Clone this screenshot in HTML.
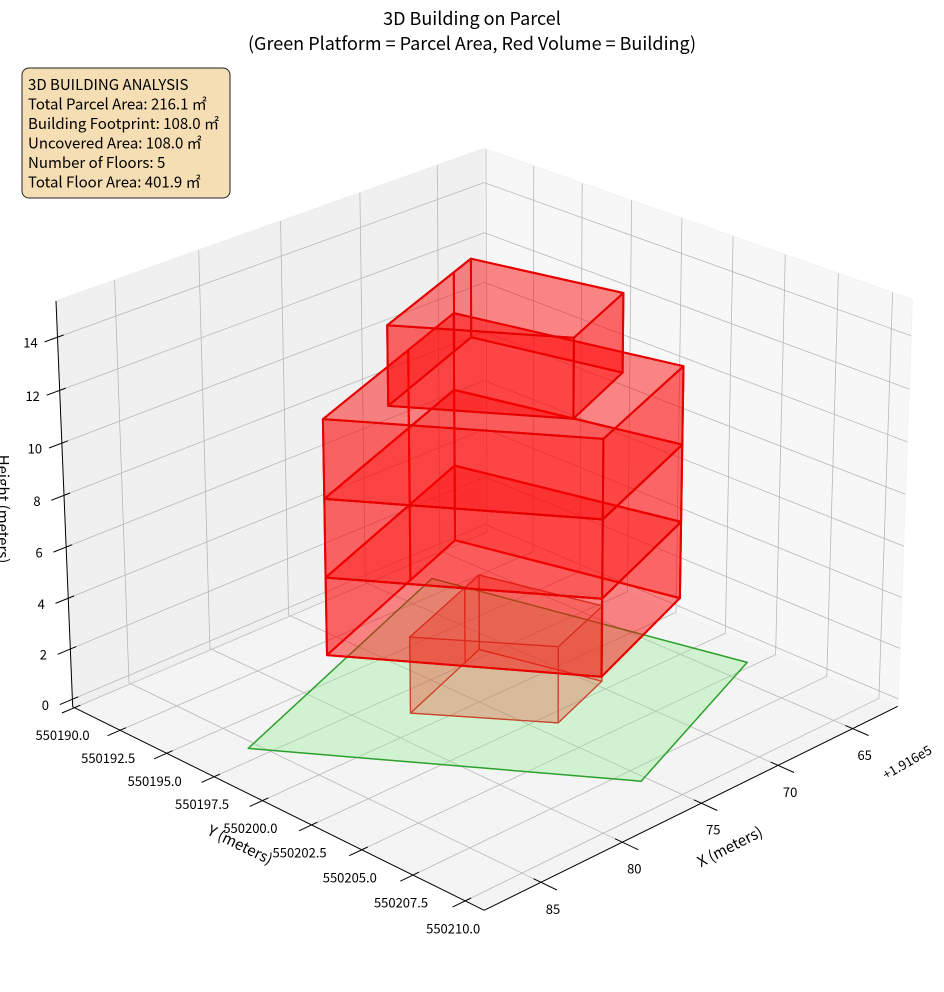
<!DOCTYPE html>
<html>
<head>
<meta charset="utf-8">
<style>
html,body{margin:0;padding:0;background:#fff;}
#wrap{position:relative;width:944px;height:992px;overflow:hidden;font-family:"Noto Sans CJK JP","Liberation Sans",sans-serif;}
svg{position:absolute;left:0;top:0;}
svg text{font-family:"Noto Sans CJK JP","Liberation Sans",sans-serif;fill:#000;}
</style>
</head>
<body>
<div id="wrap">
<svg id="chart" width="944" height="992" viewBox="0 0 944 992">
  <g id="panes"></g>
  <g id="grid"></g>
  <g id="axes"></g>
  <g id="marks"></g>
  <text x="472" y="25" text-anchor="middle" font-size="18">3D Building on Parcel</text>
  <text x="472" y="50" text-anchor="middle" font-size="18">(Green Platform = Parcel Area, Red Volume = Building)</text>
  <text x="730" y="852" text-anchor="middle" font-size="15" transform="rotate(-27 730 847)">X (meters)</text>
  <text x="240" y="850" text-anchor="middle" font-size="15" transform="rotate(26 240 845)">Y (meters)</text>
  <text x="3" y="514" text-anchor="middle" font-size="15" transform="rotate(90 3 509)">Height (meters)</text>
  <text x="907" y="767" text-anchor="middle" font-size="13" transform="rotate(-30 907 762)">+1.916e5</text>
  <g>
    <rect x="22" y="68" width="208" height="130" rx="7" fill="#f5deb3" stroke="#222" stroke-width="1"/>
    <text x="28" y="90" font-size="15">3D BUILDING ANALYSIS</text>
    <text x="28" y="109.5" font-size="15">Total Parcel Area: 216.1 ㎡</text>
    <text x="28" y="129" font-size="15">Building Footprint: 108.0 ㎡</text>
    <text x="28" y="148.5" font-size="15">Uncovered Area: 108.0 ㎡</text>
    <text x="28" y="168" font-size="15">Number of Floors: 5</text>
    <text x="28" y="187.5" font-size="15">Total Floor Area: 401.9 ㎡</text>
  </g>
</svg>
</div>
<script>
// ---- data ----
const XOFF = 191600;
const xTickVals = [65, 70, 75, 80, 85];
const yTickVals = [550190, 550192.5, 550195, 550197.5, 550200, 550202.5, 550205, 550207.5, 550210];
const zTickVals = [0, 2, 4, 6, 8, 10, 12, 14];
const yTickLabels = ["550190.0","550192.5","550195.0","550197.5","550200.0","550202.5","550205.0","550207.5","550210.0"];
const parcelX = [191686.0, 191668.0, 191664.0, 191675.9];
const parcelY = [550197.2, 550191.9, 550205.1, 550208.7];
const floor1X = [191678.5, 191674.48, 191670.1, 191671.77, 191673.18];
const floor1Y = [550199.3, 550203.57, 550202.4, 550197.43, 550197.82];
const bigX = [191682.36, 191675.28, 191667.03, 191669.91, 191674.39];
const bigY = [550198.26, 550206.29, 550203.93, 550194.69, 550195.98];
const floor5X = [191679.36, 191674.64, 191669.46, 191671.35, 191673.03];
const floor5Y = [550199.04, 550204.37, 550202.8, 550196.74, 550197.22];
const floorBase = [0, 3, 6, 9, 12];
const floorTop = [3, 6, 9, 12, 15];
const floorShape = ["f1", "big", "big", "big", "f5"];

// ---- axis limits ----
const X0 = 191661.9, X1 = 191688.4;
const Y0 = 550189.9, Y1 = 550210.9;
const Z0 = -0.3, Z1 = 15.35;

function nrm(X, Y, Z) { return [(X - X0) / (X1 - X0), (Y - Y0) / (Y1 - Y0), (Z - Z0) / (Z1 - Z0)]; }

const calib = [
  [X1, Y0, Z0, 71, 706], [X1, Y1, Z0, 484, 909], [X0, Y1, Z0, 898, 705],
  [X1, Y0, Z1, 56, 302], [X0, Y1, Z1, 912, 298], [X0, Y0, Z1, 485, 149],
  [XOFF + 85, Y1, Z0, 540, 883], [XOFF + 65, Y1, Z0, 852, 731],
  [X1, 550192.5, Z0, 123, 731], [X1, 550207.5, Z0, 415, 876],
  [X1, Y0, 0, 71, 698], [X1, Y0, 14, 57, 337]
];
function solve(M, r) {
  const n = r.length;
  const a = M.map((row, i) => row.concat([r[i]]));
  for (let c = 0; c < n; c++) {
    let p = c;
    for (let i = c + 1; i < n; i++) if (Math.abs(a[i][c]) > Math.abs(a[p][c])) p = i;
    const t = a[c]; a[c] = a[p]; a[p] = t;
    for (let i = 0; i < n; i++) {
      if (i === c) continue;
      const f = a[i][c] / a[c][c];
      for (let j = c; j <= n; j++) a[i][j] -= f * a[c][j];
    }
  }
  return a.map((row, i) => row[n] / row[i]);
}
const N = []; const R = [];
for (let i = 0; i < 11; i++) { N.push(new Array(11).fill(0)); R.push(0); }
function addRow(row, b) {
  for (let i = 0; i < 11; i++) { R[i] += row[i] * b; for (let j = 0; j < 11; j++) N[i][j] += row[i] * row[j]; }
}
calib.forEach(c => {
  const p = nrm(c[0], c[1], c[2]); const u = c[3], v = c[4];
  addRow([p[0], p[1], p[2], 1, 0, 0, 0, 0, -u * p[0], -u * p[1], -u * p[2]], u);
  addRow([0, 0, 0, 0, p[0], p[1], p[2], 1, -v * p[0], -v * p[1], -v * p[2]], v);
});
const m = solve(N, R);
function proj(X, Y, Z) {
  const p = nrm(X, Y, Z);
  const w = m[8] * p[0] + m[9] * p[1] + m[10] * p[2] + 1;
  return [(m[0] * p[0] + m[1] * p[1] + m[2] * p[2] + m[3]) / w, (m[4] * p[0] + m[5] * p[1] + m[6] * p[2] + m[7]) / w, w];
}

const NS = "http://www.w3.org/2000/svg";
const gPanes = document.getElementById("panes");
const gGrid = document.getElementById("grid");
const gAxes = document.getElementById("axes");
const gMarks = document.getElementById("marks");

function polyEl(parent, pts3, fill, stroke, sw, name) {
  const el = document.createElementNS(NS, "polygon");
  el.setAttribute("points", pts3.map(p => { const q = proj(p[0], p[1], p[2]); return q[0].toFixed(1) + "," + q[1].toFixed(1); }).join(" "));
  el.setAttribute("fill", fill);
  el.setAttribute("stroke", stroke);
  el.setAttribute("stroke-width", sw);
  el.setAttribute("stroke-linejoin", "round");
  
  
  parent.appendChild(el);
  return el;
}
function lineEl(parent, a, b, stroke, sw, name) {
  const p = proj(a[0], a[1], a[2]), q = proj(b[0], b[1], b[2]);
  const el = document.createElementNS(NS, "line");
  el.setAttribute("x1", p[0].toFixed(1)); el.setAttribute("y1", p[1].toFixed(1));
  el.setAttribute("x2", q[0].toFixed(1)); el.setAttribute("y2", q[1].toFixed(1));
  el.setAttribute("stroke", stroke);
  el.setAttribute("stroke-width", sw);
  
  
  parent.appendChild(el);
  return el;
}
function textEl(parent, x, y, s, name) {
  const el = document.createElementNS(NS, "text");
  el.setAttribute("x", x.toFixed(1)); el.setAttribute("y", y.toFixed(1));
  el.setAttribute("text-anchor", "middle");
  el.setAttribute("dominant-baseline", "central");
  el.setAttribute("font-size", "13");
  el.textContent = s;
  
  
  parent.appendChild(el);
}

// panes
polyEl(gPanes, [[X0, Y0, Z0], [X1, Y0, Z0], [X1, Y1, Z0], [X0, Y1, Z0]], "#f4f4f4", "#f0f0f0", 1, "floor-pane");
polyEl(gPanes, [[X0, Y0, Z0], [X1, Y0, Z0], [X1, Y0, Z1], [X0, Y0, Z1]], "#f0f0f0", "#ececec", 1, "left-pane");
polyEl(gPanes, [[X0, Y0, Z0], [X0, Y1, Z0], [X0, Y1, Z1], [X0, Y0, Z1]], "#f7f7f7", "#f2f2f2", 1, "right-pane");

// grid
const GC = "#b8b8b8";
xTickVals.forEach(t => {
  const x = XOFF + t;
  lineEl(gGrid, [x, Y0, Z0], [x, Y1, Z0], GC, 0.8, "floor-grid-x");
  lineEl(gGrid, [x, Y0, Z0], [x, Y0, Z1], GC, 0.8, "wall-grid-x");
});
yTickVals.forEach(y => {
  lineEl(gGrid, [X0, y, Z0], [X1, y, Z0], GC, 0.8, "floor-grid-y");
  lineEl(gGrid, [X0, y, Z0], [X0, y, Z1], GC, 0.8, "wall-grid-y");
});
zTickVals.forEach(z => {
  lineEl(gGrid, [X0, Y0, z], [X1, Y0, z], GC, 0.8, "left-wall-grid-z");
  lineEl(gGrid, [X0, Y0, z], [X0, Y1, z], GC, 0.8, "right-wall-grid-z");
});

// axes
lineEl(gAxes, [X1, Y0, Z0], [X1, Y1, Z0], "#000", 1, "y-axis-line");
lineEl(gAxes, [X0, Y1, Z0], [X1, Y1, Z0], "#000", 1, "x-axis-line");
lineEl(gAxes, [X1, Y0, Z0], [X1, Y0, Z1], "#000", 1, "z-axis-line");
xTickVals.forEach(t => {
  const x = XOFF + t;
  lineEl(gAxes, [x, Y1 - 0.35, Z0], [x, Y1 + 0.75, Z0], "#000", 1, "x-tick");
  const p = proj(x, Y1, Z0);
  textEl(gAxes, p[0] + 12, p[1] + 26, String(t), "x-tick-label");
});
yTickVals.forEach((y, i) => {
  lineEl(gAxes, [X1 - 0.35, y, Z0], [X1 + 0.75, y, Z0], "#000", 1, "y-tick");
  const p = proj(X1, y, Z0);
  textEl(gAxes, p[0] - 12, p[1] + 27, yTickLabels[i], "y-tick-label");
});
zTickVals.forEach(z => {
  lineEl(gAxes, [X1 - 0.35, Y0, z], [X1 + 0.75, Y0, z], "#000", 1, "z-tick");
  const p = proj(X1, Y0, z);
  textEl(gAxes, p[0] - 27, p[1] + 5, String(z), "z-tick-label");
});

// parcel
polyEl(gMarks, parcelX.map((x, i) => [x, parcelY[i], 0]), "rgba(144,238,144,0.35)", "#2ca02c", 1.5, "parcel-platform");

// building floors
const shapes = { f1: [floor1X, floor1Y], big: [bigX, bigY], f5: [floor5X, floor5Y] };
const faces = [];
floorBase.forEach((zb, f) => {
  const xs = shapes[floorShape[f]][0];
  const ys = shapes[floorShape[f]][1];
  const zt = floorTop[f];
  const first = f === 0;
  const stroke = first ? "#c8452e" : "#e60000";
  const sw = first ? 1.2 : 2;
  const capFill = first ? "rgba(230,60,30,0.10)" : "rgba(255,0,0,0.16)";
  const wallFill = first ? "rgba(230,60,30,0.22)" : "rgba(255,0,0,0.36)";
  const bottom = xs.map((x, i) => [x, ys[i], zb]);
  const top = xs.map((x, i) => [x, ys[i], zt]);
  faces.push({ pts: bottom, fill: capFill, stroke, sw, name: "floor-" + (f + 1) + "-bottom" });
  faces.push({ pts: top, fill: capFill, stroke, sw, name: "floor-" + (f + 1) + "-top" });
  for (let i = 0; i < xs.length; i++) {
    const j = (i + 1) % xs.length;
    faces.push({ pts: [[xs[i], ys[i], zb], [xs[j], ys[j], zb], [xs[j], ys[j], zt], [xs[i], ys[i], zt]], fill: wallFill, stroke, sw, name: "floor-" + (f + 1) + "-wall" });
  }
});
faces.forEach(fc => { fc.d = fc.pts.reduce((s, p) => s + proj(p[0], p[1], p[2])[2], 0) / fc.pts.length; });
faces.sort((a, b) => b.d - a.d);
faces.forEach(fc => { polyEl(gMarks, fc.pts, fc.fill, fc.stroke, fc.sw, fc.name); });
</script>
</body>
</html>
